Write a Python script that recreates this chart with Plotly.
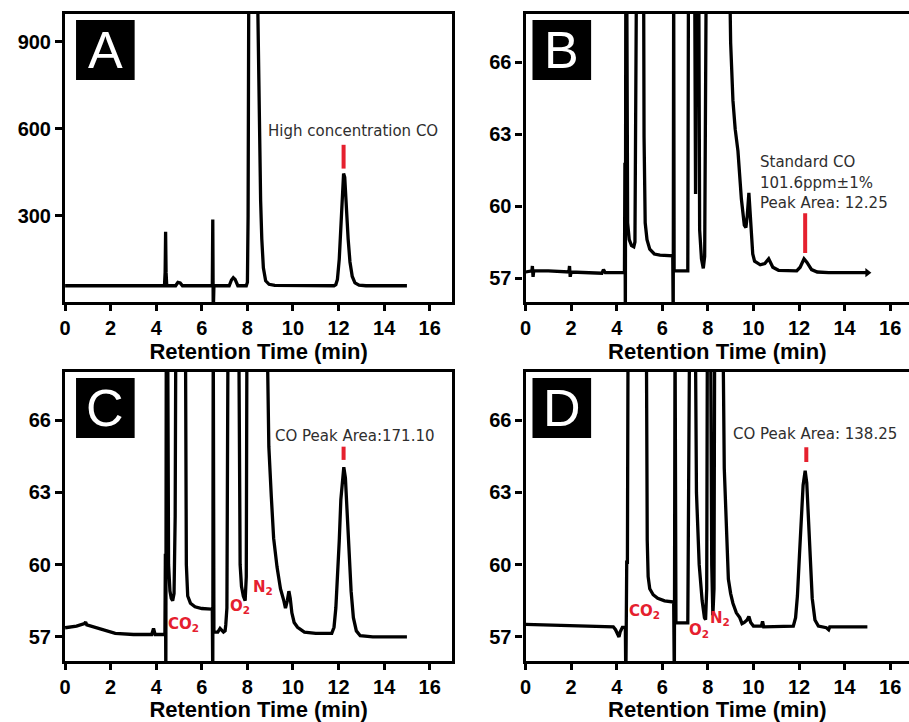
import plotly.graph_objects as go

# ---------------- chromatogram data (retention time in min, detector signal) ----------------
a_time = [0, 4.36, 4.39, 4.41, 4.43, 4.46, 4.85, 4.95, 5.05, 5.15, 6.46, 6.48, 6.50, 6.53,
          7.2, 7.3, 7.38, 7.46, 7.58, 7.95, 8.0, 8.03, 8.06, 8.44, 8.48, 8.53, 8.58, 8.63,
          8.7, 8.8, 8.95, 9.2, 11.8, 11.88, 11.95, 12.03, 12.1, 12.17, 12.22, 12.27, 12.33,
          12.42, 12.5, 12.6, 12.72, 12.9, 13.2, 15.0]
a_signal = [58, 58, 105, 244, 105, 58, 58, 70, 68, 58, 58, 286, -40, 58,
            58, 78, 86, 80, 58, 58, 70, 300, 1100, 1100, 820, 520, 350, 220,
            120, 75, 63, 59, 58, 62, 80, 150, 280, 400, 445, 432, 340,
            220, 140, 90, 68, 60, 58, 58]

b_time = [0, 0.28, 0.3, 0.33, 0.36, 1.0, 1.9, 1.93, 1.96, 2.0, 3.35, 3.42, 3.5, 4.34,
          4.36, 4.38, 4.40, 4.44, 4.48, 4.55, 4.65, 4.75, 4.8, 4.84, 4.87, 5.18, 5.2,
          5.25, 5.33, 5.45, 5.65, 5.9, 6.46, 6.48, 6.50, 6.52, 6.6, 7.12, 7.15, 7.42,
          7.46, 7.5, 7.6, 7.64, 7.72, 7.8, 7.86, 7.93, 8.95, 9.0, 9.1, 9.2, 9.32, 9.47,
          9.6, 9.67, 9.73, 9.8, 9.85, 9.9, 9.97, 10.05, 10.3, 10.5, 10.67, 10.85, 11.1,
          11.9, 12.05, 12.22, 12.35, 12.55, 12.8, 13.3, 15.0]
b_signal = [57.25, 57.3, 57.5, 57.05, 57.3, 57.3, 57.25, 57.5, 57.05, 57.25, 57.2, 57.35, 57.22, 57.22,
            61.8, 55.0, 70.0, 70.0, 59.3, 58.6, 58.35, 58.3, 58.5, 62.9, 70.0, 70.0, 62.9,
            59.3, 58.6, 58.2, 58.0, 57.95, 57.92, 55.0, 70.0, 57.3, 57.3, 57.3, 70.0, 70.0,
            60.5, 70.0, 70.0, 59.0, 57.8, 57.4, 57.9, 70.0, 70.0, 66.8, 64.4, 63.2, 62.3, 60.3,
            59.2, 59.1, 59.6, 60.55, 59.8, 58.9, 58.0, 57.7, 57.55, 57.6, 57.8, 57.45, 57.32,
            57.3, 57.45, 57.8, 57.65, 57.35, 57.25, 57.22, 57.22]

c_time = [0, 0.5, 0.85, 0.9, 0.95, 1.5, 2.2, 3.0, 3.8, 3.88, 3.95, 4.38, 4.40, 4.42,
          4.44, 4.5, 4.54, 4.6, 4.66, 4.72, 4.78, 4.83, 4.86, 5.28, 5.32, 5.38, 5.5, 5.7,
          6.0, 6.46, 6.48, 6.50, 6.53, 6.7, 6.8, 6.95, 7.02, 7.05, 7.1, 7.15, 7.62, 7.68,
          7.74, 7.82, 7.9, 7.95, 7.98, 8.86, 8.94, 9.05, 9.15, 9.3, 9.45, 9.6, 9.67, 9.75,
          9.82, 9.88, 9.95, 10.05, 10.2, 10.5, 11.0, 11.7, 11.8, 11.88, 11.95, 12.03, 12.1,
          12.17, 12.23, 12.3, 12.37, 12.45, 12.55, 12.65, 12.78, 12.95, 13.5, 15.0]
c_signal = [57.38, 57.45, 57.55, 57.62, 57.5, 57.35, 57.15, 57.1, 57.1, 57.35, 57.1, 57.1, 60.45, 55.0,
            70.0, 70.0, 60.0, 58.9, 58.6, 58.5, 58.8, 62.0, 70.0, 70.0, 60.0, 58.7, 58.4, 58.25,
            58.18, 58.15, 55.0, 70.0, 57.2, 57.2, 57.35, 57.2, 57.25, 57.5, 58.2, 70.0, 70.0, 60.0,
            59.1, 58.7, 58.5, 59.5, 70.0, 70.0, 64.9, 62.8, 61.1, 59.9, 59.0, 58.5, 58.2, 58.5,
            58.9, 58.6, 58.0, 57.6, 57.4, 57.2, 57.15, 57.15, 57.4, 58.2, 59.3, 61.0, 62.7,
            63.7, 64.05, 63.6, 62.3, 60.5, 58.9, 57.8, 57.25, 57.05, 57.0, 57.0]

d_time = [0, 1.0, 1.7, 2.5, 3.0, 3.85, 3.95, 4.05, 4.1, 4.15, 4.25, 4.38, 4.40, 4.44,
          4.47, 4.5, 5.3, 5.34, 5.38, 5.45, 5.6, 5.8, 6.1, 6.5, 6.53, 6.56, 6.6, 7.12, 7.2,
          7.45, 7.5, 7.62, 7.75, 7.85, 7.9, 7.95, 7.98, 8.12, 8.17, 8.22, 8.27, 8.3, 8.66,
          8.72, 8.8, 8.9, 9.0, 9.1, 9.25, 9.4, 9.5, 9.6, 9.72, 9.8, 9.88, 10.0, 10.35, 10.4,
          10.45, 11.0, 11.75, 11.85, 11.93, 12.02, 12.1, 12.18, 12.27, 12.34, 12.42, 12.5,
          12.58, 12.7, 12.85, 13.2, 13.3, 13.35, 15.0]
d_signal = [57.52, 57.5, 57.48, 57.45, 57.45, 57.42, 57.3, 57.05, 57.0, 57.2, 57.4, 57.4, 55.0, 60.1,
            60.1, 70.0, 70.0, 61.0, 59.5, 59.0, 58.75, 58.6, 58.5, 58.45, 55.0, 70.0, 57.58, 57.58, 70.0,
            70.0, 63.0, 60.0, 58.5, 57.8, 57.72, 59.0, 70.0, 70.0, 60.0, 57.9, 59.0, 70.0, 70.0,
            64.0, 61.5, 59.4, 58.8, 58.4, 58.0, 57.8, 57.55, 57.6, 57.7, 57.85, 57.6, 57.45, 57.45, 57.65,
            57.42, 57.42, 57.45, 57.8, 58.7, 60.4, 62.0, 63.3, 63.9, 63.4, 61.8, 60.0,
            58.6, 57.7, 57.45, 57.38, 57.3, 57.42, 57.42]

# CO peak markers (time, lower and upper signal of the red tick)
co_mark_time = [12.22, 12.27, 12.22, 12.32]
co_mark_low = [462, 58.04, 64.35, 64.26]
co_mark_high = [544, 59.7, 64.9, 64.88]

panel_letters = ["A", "B", "C", "D"]
x_ticks = [0, 2, 4, 6, 8, 10, 12, 14, 16]
y_ticks_a = [300, 600, 900]
y_ticks_bcd = [57, 60, 63, 66]

# ---------------- layout geometry (pixels) ----------------
W, H = 909, 722
px_per_min = 22.94
left_x = (59.5, 449.0)
right_x = (523.0, 909.0)
top_y = (14.0, 302.0)
bot_y = (372.0, 661.0)


def xdom(p):
    return [p[0] / W, p[1] / W]


def ydom(p):
    return [1 - p[1] / H, 1 - p[0] / H]


panels = [
    dict(t=a_time, s=a_signal, xd=left_x, yd=top_y, yr=[2, 995], yt=y_ticks_a, right=False),
    dict(t=b_time, s=b_signal, xd=right_x, yd=top_y, yr=[56, 68], yt=y_ticks_bcd, right=True),
    dict(t=c_time, s=c_signal, xd=left_x, yd=bot_y, yr=[56, 68], yt=y_ticks_bcd, right=False),
    dict(t=d_time, s=d_signal, xd=right_x, yd=bot_y, yr=[56, 68], yt=y_ticks_bcd, right=True),
]

tick_font = dict(family="Liberation Sans, Arial", size=20, color="black", weight="bold")
title_font = dict(family="Liberation Sans, Arial", size=22, color="black", weight="bold")
note_font = dict(family="DejaVu Sans", size=15, color="#2e2e2e")
red = "#e5202e"
red_font = dict(family="DejaVu Sans", size=15, color=red, weight="bold")

fig = go.Figure()
layout = dict(width=W, height=H, margin=dict(l=0, r=0, t=0, b=0),
              paper_bgcolor="white", plot_bgcolor="white", showlegend=False)
shapes, annotations = [], []

for i, p in enumerate(panels):
    n = "" if i == 0 else str(i + 1)
    xa, ya = "x" + n, "y" + n
    fig.add_trace(go.Scatter(x=p["t"], y=p["s"], mode="lines", xaxis=xa, yaxis=ya,
                             line=dict(color="black", width=3.3), hoverinfo="skip"))
    xmax = (p["xd"][1] - p["xd"][0]) / px_per_min
    layout["xaxis" + n] = dict(
        domain=xdom(p["xd"]), anchor=ya, range=[0, xmax], tickvals=x_ticks,
        ticks="outside", ticklen=6, tickwidth=3, tickcolor="black",
        showline=True, linewidth=3.2, linecolor="black", mirror=True,
        showgrid=False, zeroline=False, tickfont=tick_font,
        title=dict(text="Retention Time (min)", font=title_font, standoff=1))
    layout["yaxis" + n] = dict(
        domain=ydom(p["yd"]), anchor=xa, range=p["yr"], tickvals=p["yt"],
        ticks="outside", ticklen=7, tickwidth=3, tickcolor="black",
        showline=True, linewidth=3.2, linecolor="black", mirror=not p["right"],
        showgrid=False, zeroline=False, tickfont=tick_font)

    # panel letter badge
    bx0 = 11.0 if not p["right"] else 7.0
    wpx = p["xd"][1] - p["xd"][0]
    hpx = p["yd"][1] - p["yd"][0]
    shapes.append(dict(type="rect", xref=xa + " domain", yref=ya + " domain",
                       x0=bx0 / wpx, x1=(bx0 + 59) / wpx,
                       y0=1 - 66 / hpx, y1=1 - 6 / hpx,
                       fillcolor="black", line=dict(width=0)))
    annotations.append(dict(xref=xa + " domain", yref=ya + " domain",
                            x=(bx0 + 29.5) / wpx, y=1 - 36 / hpx,
                            text=panel_letters[i], showarrow=False,
                            font=dict(family="Liberation Sans, Arial", size=52, color="white"),
                            xanchor="center", yanchor="middle"))

    # red CO peak tick
    fig.add_trace(go.Scatter(x=[co_mark_time[i], co_mark_time[i]],
                             y=[co_mark_low[i], co_mark_high[i]], mode="lines",
                             xaxis=xa, yaxis=ya, line=dict(color=red, width=4),
                             hoverinfo="skip"))

# end-of-run arrow on panel B
fig.add_trace(go.Scatter(x=[b_time[-1]], y=[b_signal[-1]], mode="markers", xaxis="x2", yaxis="y2",
                         marker=dict(symbol="triangle-right", size=8, color="black"),
                         hoverinfo="skip"))

# text notes
annotations += [
    dict(xref="x", yref="y", x=12.64, y=590, text="High concentration CO",
         showarrow=False, font=note_font, xanchor="center", yanchor="middle"),
    dict(xref="x2", yref="y2", x=10.18, y=61.84, text="Standard CO",
         showarrow=False, font=note_font, xanchor="left", yanchor="middle"),
    dict(xref="x2", yref="y2", x=10.18, y=60.97, text="101.6ppm\u00b11%",
         showarrow=False, font=note_font, xanchor="left", yanchor="middle"),
    dict(xref="x2", yref="y2", x=10.18, y=60.12, text="Peak Area: 12.25",
         showarrow=False, font=note_font, xanchor="left", yanchor="middle"),
    dict(xref="x3", yref="y3", x=12.7, y=65.35, text="CO Peak Area:171.10",
         showarrow=False, font=note_font, xanchor="center", yanchor="middle"),
    dict(xref="x4", yref="y4", x=12.69, y=65.44, text="CO Peak Area: 138.25",
         showarrow=False, font=note_font, xanchor="center", yanchor="middle"),
]

# gas labels (time, signal) for panels C and D
gas_labels = [
    ("x3", "y3", 5.2, 57.5, "CO<sub>2</sub>"),
    ("x3", "y3", 7.69, 58.25, "O<sub>2</sub>"),
    ("x3", "y3", 8.7, 59.05, "N<sub>2</sub>"),
    ("x4", "y4", 5.2, 58.05, "CO<sub>2</sub>"),
    ("x4", "y4", 7.63, 57.25, "O<sub>2</sub>"),
    ("x4", "y4", 8.55, 57.75, "N<sub>2</sub>"),
]
for xr, yr, gx, gy, txt in gas_labels:
    annotations.append(dict(xref=xr, yref=yr, x=gx, y=gy, text=txt, showarrow=False,
                            font=red_font, xanchor="center", yanchor="middle"))

layout["shapes"] = shapes
layout["annotations"] = annotations
fig.update_layout(**layout)
fig.write_html("out.html")
